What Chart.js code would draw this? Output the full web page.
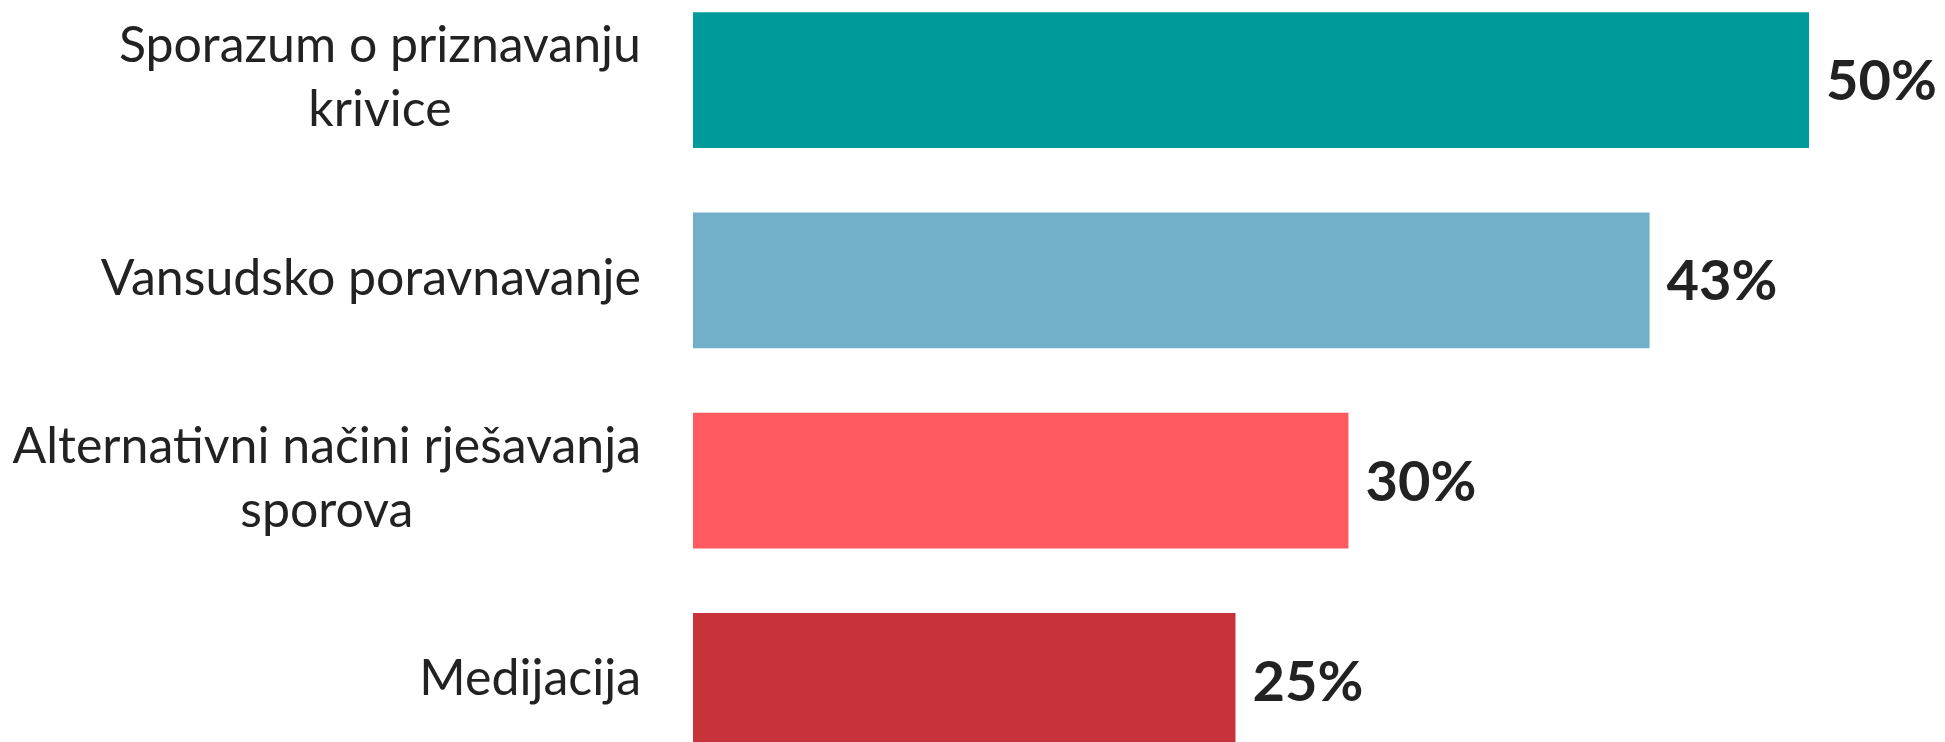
<!DOCTYPE html>
<html>
<head>
<meta charset="utf-8">
<script src="https://cdn.jsdelivr.net/npm/chart.js@4.4.0/dist/chart.umd.min.js"></script>
<style>
  html, body { margin: 0; padding: 0; background: #fff; overflow: hidden; }
  #wrap { position: absolute; left: 0; top: -20px; width: 1945px; height: 801px; }
</style>
</head>
<body>
<div id="wrap"><canvas id="chart"></canvas></div>
<script>
// data
const categories = [
  ["Sporazum o priznavanju", "krivice"],
  ["Vansudsko poravnavanje"],
  ["Alternativni načini rješavanja", "sporova"],
  ["Medijacija"]
]
const values = [50.4, 43.2, 29.6, 24.5]
const barColors = ["#009a9a", "#72b0ca", "#ff5a5f", "#c8333b"]

const TextColor = "#222222"
const LabelFont = "normal 50px Lato"
const ValueFont = "bold 56px Lato"

// category labels: block right aligned, lines centered inside the block
const CategoryLabels = {
  id: "categoryLabels",
  afterDraw(chart) {
    const ctx = chart.ctx
    const yScale = chart.scales.y
    const rightEdge = chart.chartArea.left - 52
    const lineHeight = 64
    ctx.save()
    ctx.font = LabelFont
    ctx.fillStyle = TextColor
    ctx.textAlign = "center"
    ctx.textBaseline = "middle"
    categories.forEach(function(lines, i){
      const blockW = Math.max(...lines.map(l => ctx.measureText(l).width))
      const cx = rightEdge - blockW / 2
      const cy = yScale.getPixelForValue(i) - 2
      const startY = cy - (lines.length - 1) * lineHeight / 2
      lines.forEach(function(line, j){
        ctx.fillText(line, cx, startY + j * lineHeight)
      })
    })
    ctx.restore()
  }
}

// percent labels at the end of every bar
const ValueLabels = {
  id: "valueLabels",
  afterDatasetsDraw(chart) {
    const ctx = chart.ctx
    const meta = chart.getDatasetMeta(0)
    ctx.save()
    ctx.font = ValueFont
    ctx.fillStyle = TextColor
    ctx.textAlign = "left"
    ctx.textBaseline = "middle"
    meta.data.forEach(function(bar, i){
      ctx.fillText(Math.round(values[i]) + "%", bar.x + 17, bar.y + 2)
    })
    ctx.restore()
  }
}

new Chart(document.getElementById("chart"), {
  type: "bar",
  data: {
    labels: categories,
    datasets: [{
      data: values,
      backgroundColor: barColors,
      borderWidth: 0,
      barPercentage: 0.679,
      categoryPercentage: 1
    }]
  },
  options: {
    indexAxis: "y",
    responsive: true,
    maintainAspectRatio: false,
    animation: false,
    layout: { padding: { left: 0, right: 12, top: 0, bottom: 0 } },
    plugins: { legend: { display: false }, tooltip: { enabled: false } },
    scales: {
      x: { display: false, min: 0, max: 56 },
      y: {
        grid: { display: false, drawTicks: false },
        border: { display: false },
        ticks: { display: false },
        afterFit: function(scale){ scale.width = 693 }
      }
    }
  },
  plugins: [CategoryLabels, ValueLabels]
})
</script>
</body>
</html>
